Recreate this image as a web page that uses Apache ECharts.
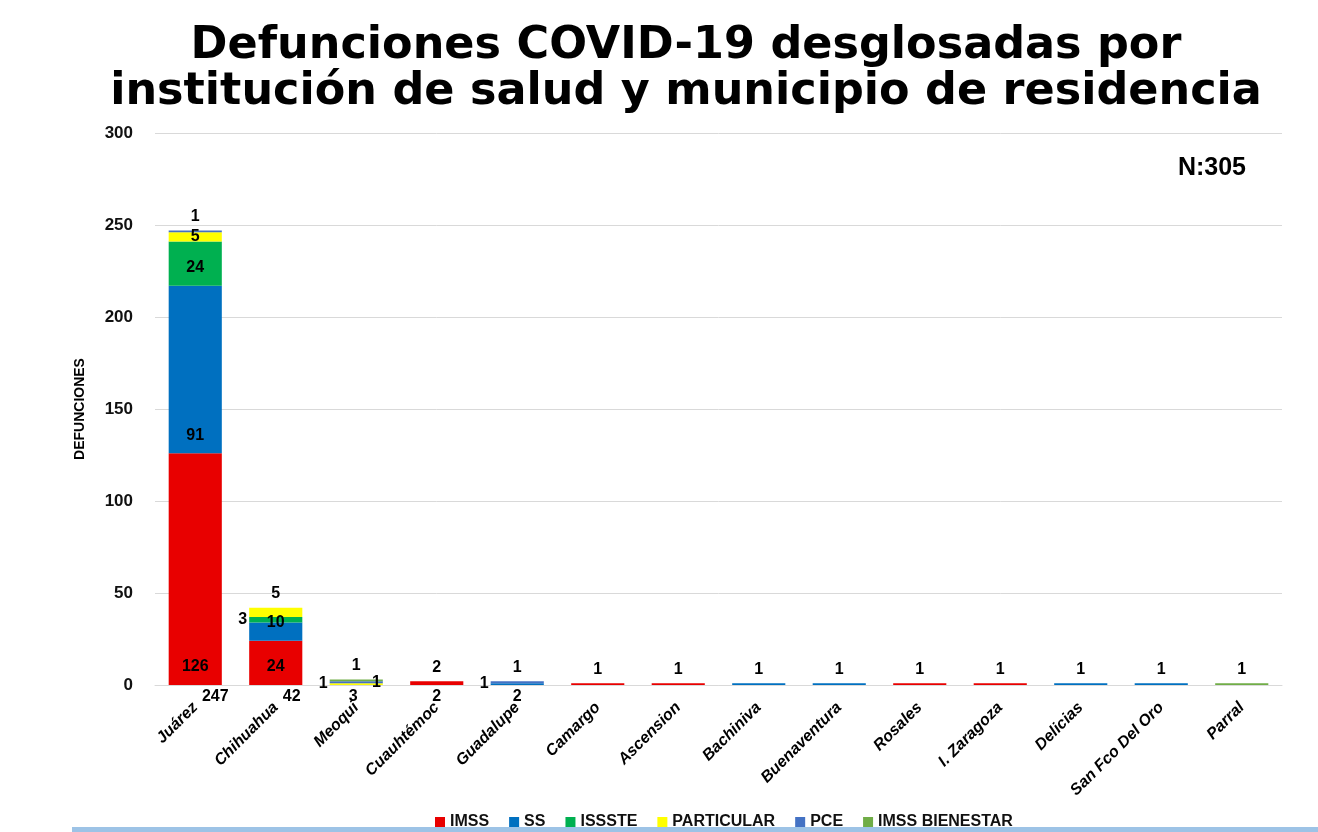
<!DOCTYPE html>
<html>
<head>
<meta charset="utf-8">
<script src="https://cdn.jsdelivr.net/npm/echarts@6/dist/echarts.min.js"></script>
<style>html,body{margin:0;padding:0;background:#fff}#chart{width:1318px;height:832px}</style>
</head>
<body>
<div id="chart"></div>
<script>
const categories = ['Juárez','Chihuahua','Meoqui','Cuauhtémoc','Guadalupe','Camargo','Ascension','Bachiniva','Buenaventura','Rosales','I. Zaragoza','Delicias','San Fco Del Oro','Parral'];
const imss       = [126, 24, null, 2, null, 1, 1, null, null, 1, 1, null, null, null];
const ss         = [91, 10, null, null, 1, null, null, 1, 1, null, null, 1, 1, null];
const issste     = [24, 3, null, null, null, null, null, null, null, null, null, null, null, null];
const particular = [5, 5, 1, null, null, null, null, null, null, null, null, null, null, null];
const pce        = [1, null, 1, null, 1, null, null, null, null, null, null, null, null, null];
const bienestar  = [null, null, 1, null, null, null, null, null, null, null, null, null, null, 1];
const totals     = [247, 42, 3, 2, 2, null, null, null, null, null, null, null, null, null];
const yTicks     = [0, 50, 100, 150, 200, 250, 300];
const nLabel     = 'N:305';

const seriesDefs = [
  {name: 'IMSS', data: imss, color: '#E80000'},
  {name: 'SS', data: ss, color: '#0070C0'},
  {name: 'ISSSTE', data: issste, color: '#00B050'},
  {name: 'PARTICULAR', data: particular, color: '#FFFF00'},
  {name: 'PCE', data: pce, color: '#4472C4'},
  {name: 'IMSS BIENESTAR', data: bienestar, color: '#70AD47'}
];

// label placement overrides (style only)
const labelPos = {
  'PCE|Juárez': 'top',
  'PARTICULAR|Juárez': 'inside',
  'ISSSTE|Chihuahua': 'left',
  'PARTICULAR|Chihuahua': 'top',
  'PARTICULAR|Meoqui': 'left',
  'PCE|Meoqui': 'insideRight',
  'IMSS BIENESTAR|Meoqui': 'top',
  'SS|Guadalupe': 'left',
  'PCE|Guadalupe': 'top'
};
const totalOffset = {0: [20, 0], 1: [16, 0], 2: [-3, 0]};

const labelFont = {fontFamily: 'Liberation Sans, Arial, sans-serif', fontWeight: 'bold', fontSize: 16, color: '#000'};

const series = seriesDefs.map(def => ({
  name: def.name,
  type: 'bar',
  stack: 'total',
  barWidth: '66%',
  itemStyle: {color: def.color},
  label: Object.assign({show: true, position: 'insideBottom', distance: 10}, labelFont),
  data: def.data.map((v, i) => {
    if (v == null) return null;
    const key = def.name + '|' + categories[i];
    let pos = labelPos[key];
    if (!pos && v <= 2) pos = 'top';
    if (pos) {
      return {value: v, label: {position: pos, distance: pos === 'top' ? 6 : 2}};
    }
    return v;
  })
}));

series.push({
  name: 'Total',
  type: 'scatter',
  symbolSize: 1,
  silent: true,
  itemStyle: {color: 'rgba(0,0,0,0)', opacity: 1},
  data: totals.map((t, i) => t == null ? null : {value: [i, 0], label: {offset: totalOffset[i] || [0, 0]}}),
  label: Object.assign({show: true, position: 'bottom', distance: 3,
    formatter: p => String(totals[p.dataIndex])}, labelFont, {color: '#000'}),
  z: 5
});

const chart = echarts.init(document.getElementById('chart'));
chart.setOption({
  animation: false,
  backgroundColor: '#fff',
  title: {
    text: 'Defunciones COVID-19 desglosadas por\ninstitución de salud y municipio de residencia',
    left: 681,
    textAlign: 'center',
    top: 18,
    textStyle: {fontFamily: 'DejaVu Sans, sans-serif', fontWeight: 'bold', fontSize: 44.5, lineHeight: 46, color: '#000'}
  },
  legend: {
    data: seriesDefs.map(d => d.name),
    left: 430,
    top: 809,
    icon: 'rect',
    itemWidth: 10,
    itemHeight: 10,
    itemGap: 20,
    textStyle: {fontFamily: 'Liberation Sans, sans-serif', fontWeight: 'bold', fontSize: 16, color: '#111'}
  },
  grid: {left: 155, right: 36, top: 133, bottom: 147, containLabel: false},
  xAxis: {
    type: 'category',
    data: categories,
    axisLine: {lineStyle: {color: '#D9D9D9'}},
    axisTick: {show: false},
    axisLabel: {rotate: 45, interval: 0, margin: 20, fontFamily: 'Liberation Sans, sans-serif', fontWeight: 'bold', fontStyle: 'italic', fontSize: 16, color: '#000'}
  },
  yAxis: {
    type: 'value',
    min: yTicks[0],
    max: yTicks[yTicks.length - 1],
    interval: yTicks[1] - yTicks[0],
    name: 'DEFUNCIONES',
    nameLocation: 'middle',
    nameRotate: 90,
    nameGap: 68,
    nameTextStyle: {fontFamily: 'Liberation Sans, sans-serif', fontWeight: 'bold', fontSize: 14, color: '#000'},
    axisLine: {show: false},
    axisTick: {show: false},
    splitLine: {lineStyle: {color: '#D9D9D9', width: 1}},
    axisLabel: {margin: 22, fontFamily: 'Liberation Sans, sans-serif', fontWeight: 'bold', fontSize: 17, color: '#111'}
  },
  graphic: [
    {type: 'text', right: 72, top: 156, style: {text: nLabel, fontFamily: 'Liberation Sans, sans-serif', fontWeight: 'bold', fontSize: 25, fill: '#000'}},
    {type: 'rect', left: 72, top: 827, shape: {width: 1246, height: 5}, style: {fill: '#9DC3E6'}}
  ],
  series: series
});
</script>
</body>
</html>
